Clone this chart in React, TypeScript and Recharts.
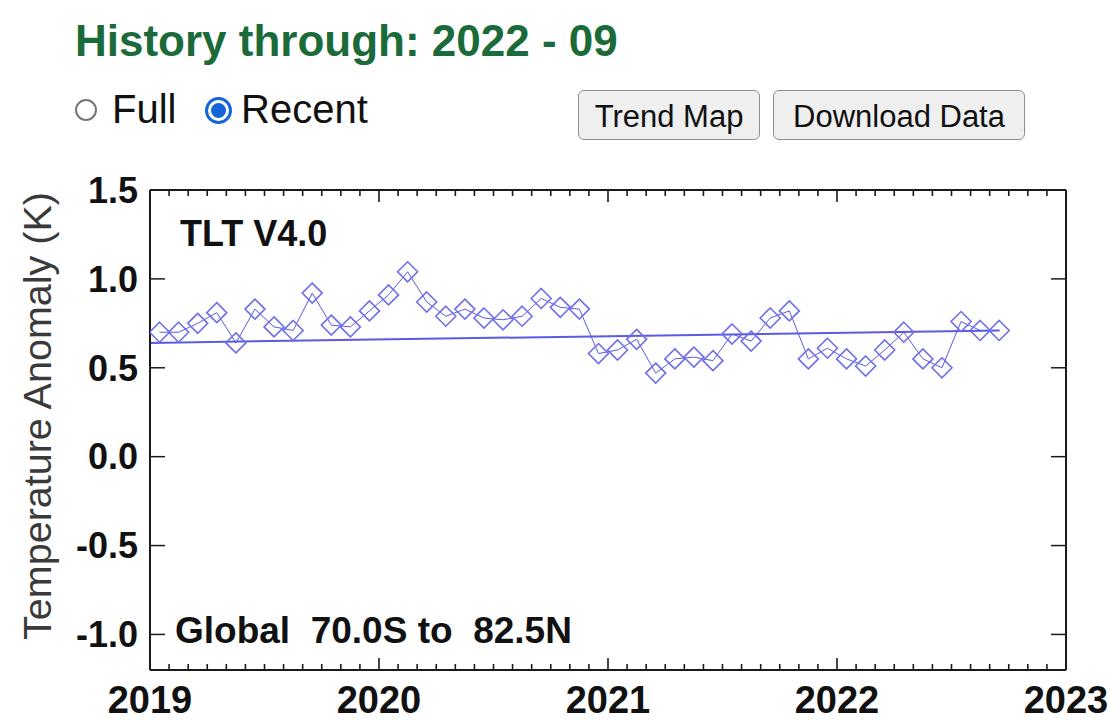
import React from 'react';
import { ComposedChart, Line, ReferenceLine, XAxis, YAxis } from 'recharts';

const FONT = '"Liberation Sans", Arial, Helvetica, sans-serif';

// Monthly TLT V4.0 global anomalies (K), 2019-01 .. 2022-09
const months = [
  '2019-01', '2019-02', '2019-03', '2019-04', '2019-05', '2019-06', '2019-07', '2019-08', '2019-09', '2019-10', '2019-11', '2019-12',
  '2020-01', '2020-02', '2020-03', '2020-04', '2020-05', '2020-06', '2020-07', '2020-08', '2020-09', '2020-10', '2020-11', '2020-12',
  '2021-01', '2021-02', '2021-03', '2021-04', '2021-05', '2021-06', '2021-07', '2021-08', '2021-09', '2021-10', '2021-11', '2021-12',
  '2022-01', '2022-02', '2022-03', '2022-04', '2022-05', '2022-06', '2022-07', '2022-08', '2022-09',
];
const anomaly = [
  0.70, 0.70, 0.75, 0.81, 0.64, 0.83, 0.73, 0.71, 0.92, 0.74, 0.73, 0.82,
  0.91, 1.04, 0.87, 0.79, 0.83, 0.78, 0.77, 0.79, 0.89, 0.84, 0.83, 0.58,
  0.60, 0.66, 0.47, 0.55, 0.56, 0.54, 0.69, 0.65, 0.78, 0.82, 0.55, 0.61,
  0.55, 0.51, 0.60, 0.70, 0.55, 0.50, 0.76, 0.71, 0.71,
];

// Linear trend line end points
const trendX = [2019.0, 2022.71];
const trendY = [0.64, 0.71];

// Axis ticks
const yearTicks = [2019, 2020, 2021, 2022, 2023];
const monthTicks = Array.from({ length: 49 }, (_, k) => 2019 + k / 12);
const yTicks = [-1.0, -0.5, 0.0, 0.5, 1.0, 1.5];
const xDomain = [2019, 2023];
const yDomain = [-1.2, 1.5];

const PLOT_H = 480;
const PX = (yDomain[1] - yDomain[0]) / PLOT_H; // one pixel in data units

const toDecimal = (m: string) => {
  const [y, mo] = m.split('-').map(Number);
  return y + (mo - 0.5) / 12;
};

const rows = months.map((m, i) => ({ x: toDecimal(m), v: anomaly[i] }));
const trendRows = trendX.map((x, i) => ({ x, t: trendY[i] }));

const SERIES = '#5a5ae2';
const DIAMOND = '#6f6fea';
const AXIS = '#1a1a1a';

const Diamond = (props: any) => {
  const { cx, cy, index } = props;
  if (cx == null || cy == null) return <g key={`d${index}`} />;
  const r = 10;
  return (
    <path
      key={`d${index}`}
      d={`M${cx},${cy - r}L${cx + r},${cy}L${cx},${cy + r}L${cx - r},${cy}Z`}
      fill="none"
      stroke={DIAMOND}
      strokeWidth={1.6}
    />
  );
};

const EmptyTick = () => <g />;

const isYear = (v: number) => Math.abs(v - Math.round(v)) < 1e-6;

const Radio = ({ checked }: { checked: boolean }) => (
  <span
    style={{
      display: 'inline-block',
      boxSizing: 'border-box',
      width: checked ? 27 : 22,
      height: checked ? 27 : 22,
      borderRadius: '50%',
      border: checked ? '3px solid #1565d8' : '2px solid #767676',
      position: 'relative',
      background: '#fff',
    }}
  >
    {checked && (
      <span
        style={{
          position: 'absolute',
          left: 3,
          top: 3,
          width: 15,
          height: 15,
          borderRadius: '50%',
          background: '#1565d8',
        }}
      />
    )}
  </span>
);

const buttonStyle: React.CSSProperties = {
  position: 'absolute',
  top: 90,
  height: 50,
  boxSizing: 'border-box',
  border: '1px solid #8f8f8f',
  borderRadius: 6,
  background: '#efefef',
  fontFamily: FONT,
  fontSize: 31,
  color: '#111',
  display: 'flex',
  alignItems: 'center',
  justifyContent: 'center',
  paddingTop: 4,
};

export default function App() {
  const tickLine = { stroke: AXIS, strokeWidth: 1.5 };
  return (
    <div style={{ position: 'absolute', left: 0, top: 0, width: 1120, height: 720, background: '#fff', overflow: 'hidden', fontFamily: FONT }}>
      <div style={{ position: 'absolute', left: 75, top: 19, fontSize: 44, lineHeight: '44px', fontWeight: 'bold', color: '#1b6b3a', whiteSpace: 'pre' }}>
        History through: 2022 - 09
      </div>

      <div style={{ position: 'absolute', left: 75, top: 99, display: 'flex', alignItems: 'center', height: 22 }}>
        <Radio checked={false} />
      </div>
      <div style={{ position: 'absolute', left: 112, top: 89, fontSize: 40, lineHeight: '40px', color: '#111' }}>Full</div>
      <div style={{ position: 'absolute', left: 205, top: 97, display: 'flex', alignItems: 'center', height: 27 }}>
        <Radio checked={true} />
      </div>
      <div style={{ position: 'absolute', left: 241, top: 89, fontSize: 40, lineHeight: '40px', color: '#111' }}>Recent</div>

      <div style={{ ...buttonStyle, left: 578, width: 182 }}>Trend Map</div>
      <div style={{ ...buttonStyle, left: 773, width: 252 }}>Download Data</div>

      <div style={{ position: 'absolute', left: 0, top: 0 }}>
        <ComposedChart width={1120} height={720} margin={{ top: 190, right: 54, bottom: 4, left: 0 }} data={rows}>
          <XAxis
            xAxisId="x"
            dataKey="x"
            type="number"
            domain={xDomain}
            allowDataOverflow
            ticks={yearTicks}
            interval={0}
            height={46}
            tickLine={false}
            tickSize={6}
            tickMargin={10}
            axisLine={{ stroke: AXIS, strokeWidth: 2 }}
            tick={{ fontSize: 38, fontWeight: 'bold', fill: '#111', fontFamily: FONT }}
          />
          <XAxis
            xAxisId="top"
            dataKey="x"
            type="number"
            domain={xDomain}
            allowDataOverflow
            ticks={yearTicks}
            interval={0}
            orientation="top"
            mirror
            height={1}
            tick={EmptyTick}
            tickLine={false}
            axisLine={{ stroke: AXIS, strokeWidth: 2 }}
          />

          <YAxis
            yAxisId="y"
            type="number"
            domain={yDomain}
            allowDataOverflow
            ticks={yTicks}
            interval={0}
            width={150}
            tickLine={false}
            tickSize={6}
            tickMargin={6}
            axisLine={{ stroke: AXIS, strokeWidth: 2 }}
            tickFormatter={(v: number) => v.toFixed(1)}
            tick={{ fontSize: 36, fontWeight: 'bold', fill: '#111', fontFamily: FONT }}
          />
          <YAxis yAxisId="yl" type="number" domain={yDomain} allowDataOverflow ticks={yTicks} interval={0} orientation="left" mirror width={1} tick={EmptyTick} tickSize={15} tickLine={tickLine} axisLine={false} />
          <YAxis yAxisId="yr" type="number" domain={yDomain} allowDataOverflow ticks={yTicks} interval={0} orientation="right" mirror width={1} tick={EmptyTick} tickSize={15} tickLine={tickLine} axisLine={{ stroke: AXIS, strokeWidth: 2 }} />

          {monthTicks.map((t) => {
            const len = (isYear(t) ? 12 : 6) * PX;
            return (
              <ReferenceLine
                key={`b${t}`}
                xAxisId="x"
                yAxisId="y"
                segment={[{ x: t, y: yDomain[0] }, { x: t, y: yDomain[0] + len }]}
                stroke={AXIS}
                strokeWidth={1.6}
                ifOverflow="visible"
              />
            );
          })}
          {monthTicks.map((t) => {
            const len = (isYear(t) ? 12 : 6) * PX;
            return (
              <ReferenceLine
                key={`t${t}`}
                xAxisId="x"
                yAxisId="y"
                segment={[{ x: t, y: yDomain[1] }, { x: t, y: yDomain[1] - len }]}
                stroke={AXIS}
                strokeWidth={1.6}
                ifOverflow="visible"
              />
            );
          })}

          <Line
            xAxisId="x"
            yAxisId="y"
            data={trendRows}
            dataKey="t"
            type="linear"
            stroke={SERIES}
            strokeWidth={2}
            dot={false}
            activeDot={false}
            isAnimationActive={false}
          />
          <Line
            xAxisId="x"
            yAxisId="y"
            dataKey="v"
            type="linear"
            stroke={SERIES}
            strokeWidth={1}
            dot={Diamond}
            activeDot={false}
            isAnimationActive={false}
          />
        </ComposedChart>
      </div>

      <div
        style={{
          position: 'absolute',
          left: 37,
          top: 416,
          transform: 'translate(-50%, -50%) rotate(-90deg)',
          fontSize: 39.5,
          lineHeight: '40px',
          color: '#3a3a3a',
          whiteSpace: 'pre',
        }}
      >
        Temperature Anomaly (K)
      </div>

      <div style={{ position: 'absolute', left: 180, top: 216, fontSize: 36, lineHeight: '36px', fontWeight: 'bold', color: '#111', whiteSpace: 'pre' }}>
        TLT V4.0
      </div>
      <div style={{ position: 'absolute', left: 175, top: 612, fontSize: 37, lineHeight: '37px', fontWeight: 'bold', color: '#111', whiteSpace: 'pre' }}>
        {'Global  70.0S to  82.5N'}
      </div>
    </div>
  );
}
